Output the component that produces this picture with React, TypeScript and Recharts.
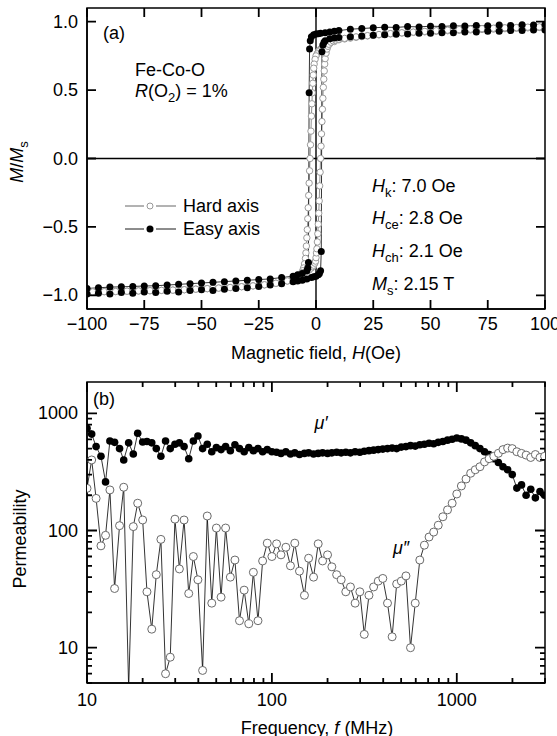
import React from "react";
import { LineChart, Line, XAxis, YAxis, ReferenceLine, ReferenceArea } from "recharts";

const FONT = "'Liberation Sans', Arial, Helvetica, sans-serif";
const PLOT_W = 458;
const PLOT_H = 301;
const A_TOP = 8;
const B_TOP = 382;
const LEFT = 87;

// ---- panel (a): hysteresis loops, H in Oe, M/Ms ----
const H_TICKS = [-100, -75, -50, -25, 0, 25, 50, 75, 100];
const M_TICKS = [-1, -0.5, 0, 0.5, 1];
const H_DOMAIN = [-100, 100];
const M_DOMAIN = [-1.1, 1.1];

const HARD_DOWN_H = [
  100, 97.5, 95, 92.5, 90, 87.5, 85, 82.5, 80, 77.5, 75, 72.5, 70, 67.5, 65, 62.5, 60, 57.5,
  55, 52.5, 50, 47.5, 45, 42.5, 40, 37.5, 35, 32.5, 30, 27.5, 25, 22.5, 20, 17.5, 15, 12.5,
  10, 8, 6, 4, 3, 2, 1.5, 1, 0.5, 0, -0.4, -0.8,
  -1.0, -1.2, -1.4, -1.6, -1.8, -2.0, -2.2, -2.4, -2.6, -2.8, -3.0, -3.2, -3.4, -3.6, -3.8,
  -4.0, -4.2, -4.4, -4.6, -5.0, -5.4, -5.8, -6.2, -7, -8, -9, -10,
  -12.5, -15, -17.5, -20, -22.5, -25, -27.5, -30, -32.5, -35, -37.5, -40, -42.5, -45, -47.5,
  -50, -52.5, -55, -57.5, -60, -62.5, -65, -67.5, -70, -72.5, -75, -77.5, -80, -82.5, -85,
  -87.5, -90, -92.5, -95, -97.5, -100,
];
const HARD_DOWN_M = [
  0.96, 0.958, 0.957, 0.955, 0.954, 0.952, 0.951, 0.949, 0.948, 0.946, 0.945, 0.943, 0.942,
  0.94, 0.939, 0.937, 0.936, 0.934, 0.932, 0.93, 0.928, 0.926, 0.924, 0.922, 0.92, 0.917,
  0.914, 0.911, 0.908, 0.904, 0.9, 0.896, 0.891, 0.886, 0.88, 0.874,
  0.868, 0.855, 0.84, 0.825, 0.815, 0.8, 0.79, 0.78, 0.765, 0.75, 0.725, 0.69,
  0.66, 0.61, 0.55, 0.48, 0.4, 0.31, 0.2, 0.1, 0.0, -0.09, -0.18, -0.27, -0.36, -0.44, -0.52,
  -0.58, -0.64, -0.69, -0.73, -0.77, -0.8, -0.82, -0.835, -0.85, -0.86, -0.866, -0.872,
  -0.895, -0.905, -0.912, -0.918, -0.923, -0.927, -0.931, -0.934, -0.937, -0.94, -0.943,
  -0.945, -0.947, -0.949, -0.951, -0.953, -0.955, -0.957, -0.959, -0.96, -0.962, -0.963,
  -0.964, -0.965, -0.966, -0.967, -0.968, -0.969, -0.97, -0.971, -0.972, -0.973, -0.973,
  -0.974, -0.975, -0.976,
];
const HARD_UP_H = [
  -100, -97.5, -95, -92.5, -90, -87.5, -85, -82.5, -80, -77.5, -75, -72.5, -70, -67.5, -65,
  -62.5, -60, -57.5, -55, -52.5, -50, -47.5, -45, -42.5, -40, -37.5, -35, -32.5, -30, -27.5,
  -25, -22.5, -20, -17.5, -15, -12.5,
  -10, -8, -6, -4, -3, -2, -1.5, -1, -0.5, -0.2, 0, 0.2,
  0.4, 0.6, 0.8, 1.0, 1.2, 1.4, 1.6, 1.8, 2.0, 2.2, 2.4, 2.6, 2.8, 3.0, 3.2, 3.4, 3.6, 3.8, 4.0,
  4.4, 4.8, 5.2, 5.6, 6.5, 7.5, 8.5, 10,
  12.5, 15, 17.5, 20, 22.5, 25, 27.5, 30, 32.5, 35, 37.5, 40, 42.5, 45, 47.5, 50, 52.5, 55,
  57.5, 60, 62.5, 65, 67.5, 70, 72.5, 75, 77.5, 80, 82.5, 85, 87.5, 90, 92.5, 95, 97.5, 100,
];
const HARD_UP_M = [
  -0.976, -0.975, -0.974, -0.973, -0.973, -0.972, -0.971, -0.97, -0.969, -0.968, -0.967,
  -0.966, -0.965, -0.964, -0.963, -0.962, -0.96, -0.959, -0.957, -0.955, -0.953, -0.951,
  -0.949, -0.947, -0.945, -0.943, -0.94, -0.937, -0.934, -0.931, -0.927, -0.923, -0.918,
  -0.912, -0.905, -0.895,
  -0.868, -0.855, -0.84, -0.825, -0.815, -0.8, -0.79, -0.78, -0.765, -0.75, -0.725, -0.69,
  -0.66, -0.61, -0.55, -0.48, -0.4, -0.31, -0.2, -0.1, 0.0, 0.09, 0.18, 0.27, 0.36, 0.44, 0.52,
  0.58, 0.64, 0.69, 0.73, 0.77, 0.8, 0.82, 0.835, 0.85, 0.86, 0.866, 0.872,
  0.878, 0.884, 0.889, 0.894, 0.898, 0.902, 0.906, 0.91, 0.913, 0.916, 0.919, 0.922, 0.924,
  0.927, 0.929, 0.931, 0.934, 0.936, 0.938, 0.94, 0.942, 0.944, 0.945, 0.947, 0.949, 0.95,
  0.952, 0.953, 0.955, 0.956, 0.957, 0.959, 0.96, 0.961, 0.962, 0.963,
];

const EASY_DOWN_H = [
  100, 95, 90, 85, 80, 75, 70, 65, 60, 55, 50, 45, 40, 35, 30, 25, 20, 15, 10,
  8, 6, 4, 2, 1, 0, -1, -2, -2.5, -2.8, -3.0, -3.3, -3.6, -4, -6, -8,
  -10, -15, -20, -25, -30, -35, -40, -45, -50, -55, -60, -65, -70, -75, -80, -85, -90, -95, -100,
];
const EASY_DOWN_M = [
  0.98, 0.975, 0.978, 0.972, 0.975, 0.97, 0.972, 0.968, 0.97, 0.965, 0.967, 0.962, 0.964,
  0.958, 0.96, 0.955, 0.95, 0.945, 0.935,
  0.93, 0.925, 0.92, 0.915, 0.912, 0.91, 0.905, 0.89, 0.86, 0.8, 0.48, -0.76, -0.8, -0.82,
  -0.84, -0.85,
  -0.86, -0.87, -0.88, -0.885, -0.89, -0.895, -0.9, -0.905, -0.91, -0.915, -0.92, -0.925,
  -0.93, -0.932, -0.935, -0.938, -0.94, -0.945, -0.95,
];
const EASY_UP_H = [
  -100, -95, -90, -85, -80, -75, -70, -65, -60, -55, -50, -45, -40, -35, -30, -25, -20, -15, -10,
  -8, -6, -4, -2, -1, 0, 1, 1.5, 2.0, 2.3, 2.6, 3.0, 3.5, 4, 6, 8,
  10, 15, 20, 25, 30, 35, 40, 45, 50, 55, 60, 65, 70, 75, 80, 85, 90, 95, 100,
];
const EASY_UP_M = [
  -0.99, -0.985, -0.99, -0.98, -0.985, -0.975, -0.98, -0.97, -0.975, -0.965, -0.96, -0.965,
  -0.955, -0.95, -0.945, -0.935, -0.925, -0.915, -0.9,
  -0.895, -0.89, -0.88, -0.87, -0.865, -0.86, -0.85, -0.84, -0.82, -0.68, 0.78, 0.83, 0.85,
  0.86, 0.875, 0.88,
  0.885, 0.89, 0.895, 0.9, 0.905, 0.908, 0.91, 0.915, 0.915, 0.92, 0.92, 0.925, 0.925, 0.93,
  0.93, 0.935, 0.935, 0.94, 0.94,
];

// ---- panel (b): permeability spectra ----
const F_TICKS = [
  10, 20, 30, 40, 50, 60, 70, 80, 90, 100, 200, 300, 400, 500, 600, 700, 800, 900, 1000, 2000, 3000,
];
const P_TICKS = [
  5, 6, 7, 8, 9, 10, 20, 30, 40, 50, 60, 70, 80, 90, 100, 200, 300, 400, 500, 600, 700, 800, 900, 1000,
];
const MAJOR = [10, 100, 1000];
const F_DOMAIN = [10, 3000];
const P_DOMAIN = [5, 1850];

const FREQ = [
  10, 10.6, 11.2, 11.9, 12.6, 13.3, 14.1, 15, 15.8, 16.8,
  17.8, 18.8, 20, 21.1, 22.4, 23.7, 25.1, 26.6, 28.2, 29.9,
  31.6, 33.5, 35.5, 37.6, 39.8, 42.2, 44.7, 47.3, 50.1, 53.1,
  56.2, 59.6, 63.1, 66.8, 70.8, 75, 79.4, 84.1, 89.1, 94.4,
  100, 106, 112, 119, 126, 133, 141, 150, 158, 168,
  178, 188, 200, 211, 224, 237, 251, 266, 282, 299,
  316, 335, 355, 376, 398, 422, 447, 473, 501, 531,
  562, 596, 631, 668, 708, 750, 794, 841, 891, 944,
  1000, 1059, 1122, 1189, 1259, 1334, 1413, 1496, 1585, 1679,
  1778, 1884, 1995, 2113, 2239, 2371, 2512, 2661, 2818, 2985,
];
const MU_REAL = [
  745, 665, 520, 430, 260, 580, 565, 500, 400, 560,
  450, 675, 570, 575, 560, 500, 430, 580, 500, 545,
  560, 520, 410, 580, 640, 500, 545, 470, 510, 490,
  520, 480, 540, 500, 470, 510, 480, 500, 470, 490,
  470, 465, 455, 470, 450, 460, 445, 455, 460, 450,
  455, 460, 455, 460, 465, 460, 465, 460, 470, 465,
  475, 480, 485, 490, 495, 500, 505, 500, 515, 520,
  530, 525, 540, 545, 555, 550, 565, 575, 590, 600,
  615, 605, 590, 560, 530, 500, 470, 445, 410, 380,
  350, 330, 300, 230, 245, 200, 225, 190, 215, 200,
];
const MU_IMAG = [
  229, 400, 188, 74, 91, 222, 32, 110, 234, 4.5,
  108, 171, 123, 30, 14.4, 42, 84, 6, 8.3, 125,
  47, 123, 29, 60, 38, 6.4, 133, 24, 105, 27,
  105, 40, 56, 17, 31, 16, 44, 17, 55, 78,
  60, 77, 62, 72, 50, 78, 45, 28, 58, 40,
  77, 55, 62, 49, 42, 38, 30, 33, 24, 30,
  13, 28, 33, 37, 39, 24, 12.4, 35, 37, 41,
  10, 24, 56, 75, 88, 97, 111, 131, 150, 171,
  205, 240, 275, 308, 330, 350, 385, 410, 430, 456,
  490, 505, 500, 470, 455, 440, 420, 445, 420, 430,
];

const zip = (hs: number[], ms: number[]) => hs.map((h, i) => ({ h, m: ms[i] }));
const hardData = [...zip(HARD_DOWN_H, HARD_DOWN_M), ...zip(HARD_UP_H, HARD_UP_M)];
const easyData = [...zip(EASY_DOWN_H, EASY_DOWN_M), ...zip(EASY_UP_H, EASY_UP_M)];
const specData = FREQ.map((f, i) => ({ f, re: MU_REAL[i], im: MU_IMAG[i] }));

const minus = (s: string) => s.replace("-", "\u2212");

// inward tick marks on all four sides of both frames (page overlay, same mapping as the axes)
const ax = (h: number) => LEFT + ((h - H_DOMAIN[0]) / (H_DOMAIN[1] - H_DOMAIN[0])) * PLOT_W;
const ay = (m: number) => A_TOP + ((M_DOMAIN[1] - m) / (M_DOMAIN[1] - M_DOMAIN[0])) * PLOT_H;
const decX = PLOT_W / Math.log10(F_DOMAIN[1] / F_DOMAIN[0]);
const decY = PLOT_H / Math.log10(P_DOMAIN[1] / P_DOMAIN[0]);
const bx = (f: number) => LEFT + Math.log10(f / F_DOMAIN[0]) * decX;
const by = (p: number) => B_TOP + Math.log10(P_DOMAIN[1] / p) * decY;
const len = (v: number) => (MAJOR.includes(v) ? 10 : 5);

function frameTicks() {
  const d: string[] = [];
  const R = LEFT + PLOT_W;
  H_TICKS.forEach((h) => {
    const x = ax(h);
    d.push(`M${x},${A_TOP + PLOT_H}v-9M${x},${A_TOP}v9`);
  });
  M_TICKS.forEach((m) => {
    const y = ay(m);
    d.push(`M${LEFT},${y}h9M${R},${y}h-9`);
  });
  F_TICKS.forEach((f) => {
    const x = bx(f);
    const l = len(f);
    d.push(`M${x},${B_TOP + PLOT_H}v-${l}M${x},${B_TOP}v${l}`);
  });
  P_TICKS.forEach((p) => {
    const y = by(p);
    const l = len(p);
    d.push(`M${LEFT},${y}h${l}M${R},${y}h-${l}`);
  });
  return <path d={d.join("")} stroke="#000" strokeWidth={1.8} fill="none" />;
}

function labelA_x(p: any) {
  return (
    <text x={p.x} y={p.y + 21} textAnchor="middle" fontSize={18} fontFamily={FONT} fill="#000">
      {minus(String(p.payload.value))}
    </text>
  );
}

function labelA_y(p: any) {
  return (
    <text x={p.x - 9} y={p.y} dy={6} textAnchor="end" fontSize={18} fontFamily={FONT} fill="#000">
      {minus(p.payload.value.toFixed(1))}
    </text>
  );
}

function labelB_x(p: any) {
  if (!MAJOR.includes(p.payload.value)) return <g />;
  return (
    <text x={p.x} y={p.y + 23} textAnchor="middle" fontSize={18} fontFamily={FONT} fill="#000">
      {p.payload.value}
    </text>
  );
}

function labelB_y(p: any) {
  if (!MAJOR.includes(p.payload.value)) return <g />;
  return (
    <text x={p.x - 9} y={p.y} dy={6} textAnchor="end" fontSize={18} fontFamily={FONT} fill="#000">
      {p.payload.value}
    </text>
  );
}

const sub: React.CSSProperties = { fontSize: 13, position: "relative", top: 5, fontStyle: "normal" };

function Note({ x, y, center, rotate, children }: any) {
  const t = center ? "translate(-50%, -50%)" : "translateY(-50%)";
  return (
    <div
      style={{
        position: "absolute",
        left: x,
        top: y,
        transform: rotate ? "translate(-50%, -50%) rotate(-90deg)" : t,
        whiteSpace: "nowrap",
        fontSize: 18,
        lineHeight: 1,
        fontFamily: FONT,
        color: "#000",
      }}
    >
      {children}
    </div>
  );
}

const axisLine = { stroke: "#000", strokeWidth: 1.5 };

export default function App() {
  return (
    <div style={{ position: "absolute", left: 0, top: 0, width: 557, height: 736, background: "#fff" }}>
      <div style={{ position: "absolute", left: 0, top: 0 }}>
        <LineChart width={557} height={370} margin={{ top: A_TOP, right: 12, bottom: 31, left: 27 }}>
          <XAxis
            dataKey="h"
            type="number"
            domain={H_DOMAIN}
            ticks={H_TICKS}
            interval={0}
            tickSize={0}
            tickMargin={0}
            tickLine={false}
            axisLine={axisLine}
            tick={labelA_x}
            allowDataOverflow
            height={30}
          />
          <YAxis
            type="number"
            domain={M_DOMAIN}
            ticks={M_TICKS}
            interval={0}
            tickSize={0}
            tickMargin={0}
            tickLine={false}
            axisLine={axisLine}
            tick={labelA_y}
            allowDataOverflow
            width={60}
          />
          <ReferenceArea x1={H_DOMAIN[0]} x2={H_DOMAIN[1]} y1={M_DOMAIN[0]} y2={M_DOMAIN[1]} fill="none" stroke="#000" strokeWidth={1.5} ifOverflow="visible" />
          <ReferenceLine x={0} stroke="#000" strokeWidth={1.4} />
          <ReferenceLine y={0} stroke="#000" strokeWidth={1.4} />
          <Line
            data={hardData}
            dataKey="m"
            stroke="#777"
            strokeWidth={0.8}
            dot={{ r: 3.2, fill: "#fff", stroke: "#9a9a9a", strokeWidth: 1 }}
            isAnimationActive={false}
          />
          <Line
            data={easyData}
            dataKey="m"
            stroke="#000"
            strokeWidth={0.8}
            dot={{ r: 3.5, fill: "#000", stroke: "none" }}
            isAnimationActive={false}
          />
        </LineChart>
      </div>

      <div style={{ position: "absolute", left: 0, top: 370 }}>
        <LineChart width={557} height={366} data={specData} margin={{ top: B_TOP - 370, right: 12, bottom: 23, left: 27 }}>
          <XAxis
            dataKey="f"
            type="number"
            scale="log"
            domain={F_DOMAIN}
            ticks={F_TICKS}
            interval={0}
            tickSize={0}
            tickMargin={0}
            tickLine={false}
            axisLine={axisLine}
            tick={labelB_x}
            allowDataOverflow
            height={30}
          />
          <YAxis
            type="number"
            scale="log"
            domain={P_DOMAIN}
            ticks={P_TICKS}
            interval={0}
            tickSize={0}
            tickMargin={0}
            tickLine={false}
            axisLine={axisLine}
            tick={labelB_y}
            allowDataOverflow
            width={60}
          />
          <ReferenceArea x1={F_DOMAIN[0]} x2={F_DOMAIN[1]} y1={P_DOMAIN[0]} y2={P_DOMAIN[1]} fill="none" stroke="#000" strokeWidth={1.5} ifOverflow="visible" />
          <Line
            dataKey="re"
            stroke="#000"
            strokeWidth={0.8}
            dot={{ r: 3.8, fill: "#000", stroke: "none" }}
            isAnimationActive={false}
          />
          <Line
            dataKey="im"
            stroke="#000"
            strokeWidth={0.8}
            dot={{ r: 4, fill: "#fff", stroke: "#6a6a6a", strokeWidth: 1 }}
            isAnimationActive={false}
          />
        </LineChart>
      </div>

      {/* overlay: frame ticks and legend glyphs */}
      <svg width={557} height={736} style={{ position: "absolute", left: 0, top: 0, pointerEvents: "none" }}>
        {frameTicks()}
        <line x1={125} x2={144} y1={206} y2={206} stroke="#555" strokeWidth={0.9} />
        <line x1={156} x2={176} y1={206} y2={206} stroke="#555" strokeWidth={0.9} />
        <circle cx={150} cy={206} r={3} fill="#fff" stroke="#999" strokeWidth={1} />
        <line x1={125} x2={144} y1={229} y2={229} stroke="#000" strokeWidth={0.9} />
        <line x1={156} x2={176} y1={229} y2={229} stroke="#000" strokeWidth={0.9} />
        <circle cx={150} cy={229} r={3.5} fill="#000" />
      </svg>

      {/* panel (a) texts */}
      <Note x={103} y={33}>(a)</Note>
      <Note x={135} y={70}>Fe-Co-O</Note>
      <Note x={135} y={91}>
        <i>R</i>(O<span style={sub}>2</span>) = 1%
      </Note>
      <Note x={372} y={186}>
        <i>H</i><span style={sub}>k</span>: 7.0 Oe
      </Note>
      <Note x={372} y={218}>
        <i>H</i><span style={sub}>ce</span>: 2.8 Oe
      </Note>
      <Note x={372} y={251}>
        <i>H</i><span style={sub}>ch</span>: 2.1 Oe
      </Note>
      <Note x={372} y={284}>
        <i>M</i><span style={sub}>s</span>: 2.15 T
      </Note>
      <Note x={183} y={206}>Hard axis</Note>
      <Note x={183} y={229}>Easy axis</Note>
      <Note x={316} y={353} center>
        Magnetic field, <i>H</i>(Oe)
      </Note>
      <Note x={17} y={162} rotate>
        <i>M</i>/<i>M</i><span style={sub}>s</span>
      </Note>

      {/* panel (b) texts */}
      <Note x={93} y={399}>(b)</Note>
      <Note x={321} y={423} center>
        <i>μ′</i>
      </Note>
      <Note x={401} y={548} center>
        <i>μ″</i>
      </Note>
      <Note x={317} y={728} center>
        Frequency, <i>f</i> (MHz)
      </Note>
      <Note x={20} y={539} rotate>
        Permeability
      </Note>
    </div>
  );
}
